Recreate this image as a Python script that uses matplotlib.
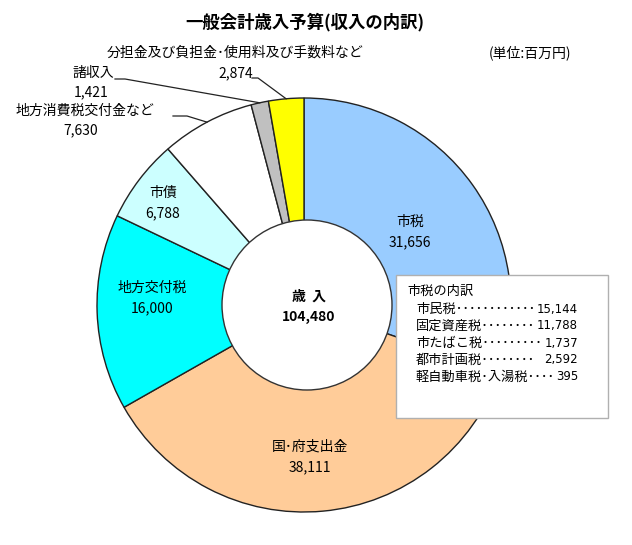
import numpy as np
import matplotlib
matplotlib.use("Agg")
import matplotlib.pyplot as plt
from matplotlib.patches import Circle, Rectangle

plt.rcParams['font.family'] = ['Noto Sans CJK JP', 'DejaVu Sans']

# ──────────────────────────────────────────────
# Data (百万円), 12時から時計回り
# ──────────────────────────────────────────────
categories = ["市税", "国・府支出金", "地方交付税", "市債",
              "地方消費税交付金など", "諸収入",
              "分担金及び負担金・使用料及び手数料など"]
values = [31656, 38111, 16000, 6788, 7630, 1421, 2874]
colors = ["#99CCFF", "#FFCC99", "#00FFFF", "#CCFFFF",
          "#FFFFFF", "#C0C0C0", "#FFFF00"]

# 市税の内訳
tax_names = ["市民税", "固定資産税", "市たばこ税", "都市計画税", "軽自動車税・入湯税"]
tax_values = [15144, 11788, 1737, 2592, 395]

title = "一般会計歳入予算(収入の内訳)"
unit = "(単位:百万円)"

# ──────────────────────────────────────────────
# Figure in pixel coordinates
# ──────────────────────────────────────────────
W, H = 632, 545
fig = plt.figure(figsize=(W / 100, H / 100), dpi=100)
ax = fig.add_axes([0, 0, 1, 1])


def Y(y):
    return H - y


def narrow(s):
    # proportional-font look of the middle dot
    return s.replace("・", "･")


cx, cy, R = 304, Y(305), 207
wedges, _ = ax.pie(values, colors=colors, startangle=90, counterclock=False,
                   radius=R, center=(cx, cy), frame=True,
                   wedgeprops=dict(edgecolor="#222222", linewidth=1.0))
ax.set_xlim(0, W)
ax.set_ylim(0, H)
ax.set_aspect("equal")
ax.axis("off")

# donut hole
ax.add_patch(Circle((307, Y(305)), 85, facecolor="white",
                    edgecolor="#333333", linewidth=1.0, zorder=3))

fs = 10
tkw = dict(fontsize=fs, ha="center", va="center", color="black")

total = sum(values)
ax.text(309, Y(297), "歳  入", fontweight="bold", zorder=5, **tkw)
ax.text(309, Y(317), f"{total:,}", fontweight="bold", zorder=5, **tkw)

# labels inside slices
inside = {0: (410, 222), 1: (310, 447), 2: (152, 288), 3: (163, 193)}
for i, (x, y) in inside.items():
    ax.text(x, Y(y), narrow(categories[i]), **tkw)
    ax.text(x, Y(y + 20), f"{values[i]:,}", **tkw)


def edge_point(w):
    mid = np.deg2rad((w.theta1 + w.theta2) / 2)
    return cx + R * np.cos(mid), cy + R * np.sin(mid)


# 地方消費税交付金など
ax.text(85, Y(111), categories[4], **tkw)
ax.text(81, Y(130), f"{values[4]:,}", **tkw)
ex, ey = edge_point(wedges[4])
ax.plot([173, 187, ex], [Y(116), Y(116), ey], color="#222222", lw=0.9)

# 諸収入
ax.text(93, Y(73), categories[5], **tkw)
ax.text(91, Y(92), f"{values[5]:,}", **tkw)
ex, ey = edge_point(wedges[5])
ax.plot([115, 125, ex], [Y(79), Y(79), ey], color="#222222", lw=0.9)

# 分担金...
ax.text(235, Y(53), narrow(categories[6]), **tkw)
ax.text(236, Y(73), f"{values[6]:,}", **tkw)
ex, ey = edge_point(wedges[6])
ax.plot([252, 258, ex], [Y(78), Y(78), ey], color="#222222", lw=0.9)

# title / unit
ax.text(305, Y(22), title, fontsize=12.5, fontweight="bold", ha="center", va="center")
ax.text(530, Y(53), unit, **tkw)

# ──────────────────────────────────────────────
# 市税の内訳 box
# ──────────────────────────────────────────────
ax.add_patch(Rectangle((396, Y(418)), 212, 143, facecolor="white",
                       edgecolor="#B0B0B0", linewidth=1.0, zorder=4))
ax.text(407, Y(291), "市税の内訳", fontsize=9.5, ha="left", va="center", zorder=5)
dots = [12, 8, 9, 8, 4]
for k, (name, v) in enumerate(zip(tax_names, tax_values)):
    yy = Y(309 + k * 17)
    ax.text(416, yy, narrow(name) + "･" * dots[k], fontsize=9.5,
            ha="left", va="center", zorder=5)
    ax.text(578, yy, f"{v:,}", fontsize=8.5, family="DejaVu Sans",
            ha="right", va="center", zorder=5)

fig.savefig("out.png", dpi=100)
